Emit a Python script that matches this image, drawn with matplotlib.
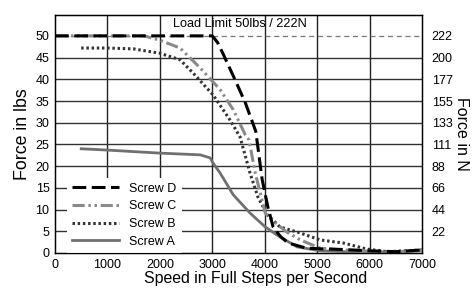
import matplotlib
matplotlib.use("Agg")
import matplotlib.pyplot as plt

plt.rcParams['font.family'] = ['Liberation Sans', 'DejaVu Sans']

# speed (full steps per second) and force (lbs)
speed_d = [0, 1000, 2000, 3000, 3100, 3200, 3430, 3630, 3830, 3950, 4060, 4160, 4300, 4450, 4800, 5000, 5500, 6000, 6500, 7000]
force_d = [50, 50, 50, 50, 48.5, 46, 40, 34.6, 28, 17, 10.6, 6, 3.8, 2.3, 1.1, 1.0, 0.8, 0.5, 0.3, 0.7]

speed_c = [0, 1000, 1700, 2000, 2385, 2770, 3150, 3400, 3630, 3700, 3820, 4010, 4140, 4400, 4680, 5060, 5500, 6000, 6500, 7000]
force_c = [50, 50, 50, 49, 47.2, 42.6, 37.6, 33, 27.2, 26, 18.4, 9.2, 7.6, 5, 3, 1.1, 0.7, 0.4, 0.3, 0.6]

speed_b = [500, 1000, 1500, 2000, 2385, 2630, 3015, 3340, 3530, 3720, 3870, 4050, 4290, 4680, 5060, 5500, 5950, 6340, 7000]
force_b = [47.2, 47.2, 47, 46, 44.5, 41.5, 36.4, 30.6, 26.7, 18.4, 12.9, 8.8, 6, 4.6, 3, 2.3, 0.9, 0.3, 0.7]

speed_a = [500, 1000, 2000, 2770, 2960, 3015, 3150, 3400, 3720, 4010, 4290, 4620, 5060, 5500, 6000, 6500, 7000]
force_a = [24, 23.7, 23, 22.6, 21.9, 20.7, 18.4, 13.4, 9.2, 6, 3.7, 1.4, 0.5, 0.3, 0.2, 0.2, 0.5]

lbs_ticks = [0, 5, 10, 15, 20, 25, 30, 35, 40, 45, 50]
newton_ticks = [5, 10, 15, 20, 25, 30, 35, 40, 45, 50]
newton_labels = ['22', '44', '66', '88', '111', '133', '155', '177', '200', '222']
load_limit = 50

fig = plt.figure(figsize=(4.77, 2.89), dpi=100)
ax = fig.add_axes([0.1153, 0.1246, 0.7694, 0.8234])

# grid
for x in range(1000, 7000, 1000):
    ax.axvline(x, color='#222222', lw=1.0, zorder=1)
for y in range(5, 50, 5):
    ax.axhline(y, color='#333333', lw=1.0, zorder=1)

# load limit line
ax.axhline(load_limit, color='#777777', lw=0.9, ls=(0, (4, 3)), zorder=1)
ax.text(3530, 51.3, 'Load Limit 50lbs / 222N', ha='center', va='bottom', fontsize=9.2)

ax.plot(speed_d, force_d, color='black', lw=2.2, dashes=(4.5, 1.8), label='Screw D', zorder=5)
ax.plot(speed_c, force_c, color='#8a8a8a', lw=2.2, dashes=(4, 1.2, 0.8, 1.2, 0.8, 1.2), label='Screw C', zorder=4)
ax.plot(speed_b, force_b, color='#333333', lw=2.2, dashes=(0.8, 0.9), label='Screw B', zorder=3)
ax.plot(speed_a, force_a, color='#707070', lw=2.0, label='Screw A', zorder=3)

ax.set_xlim(0, 7000)
ax.set_ylim(0, 54.8)
ax.set_xticks(range(0, 7001, 1000))
ax.set_yticks(lbs_ticks)
ax.tick_params(length=0, labelsize=9, pad=4)
ax.set_xlabel('Speed in Full Steps per Second', fontsize=11.4, labelpad=1)
ax.xaxis.set_label_coords(0.548, -0.075)
ax.set_ylabel('Force in lbs', fontsize=12.8, labelpad=3)
for s in ax.spines.values():
    s.set_linewidth(1.0)

ax2 = ax.twinx()
ax2.set_ylim(ax.get_ylim())
ax2.set_yticks(newton_ticks)
ax2.set_yticklabels(newton_labels)
ax2.tick_params(length=0, labelsize=9, pad=7)
ax2.set_ylabel('Force in N', fontsize=11.5, rotation=270, labelpad=12)

leg = ax.legend(loc='lower left', bbox_to_anchor=(0.015, -0.025), frameon=True, fancybox=False,
                edgecolor='none', facecolor='white', framealpha=1, fontsize=9,
                handlelength=3.8, labelspacing=0.45, borderpad=0.4)
leg.set_zorder(10)

fig.savefig('out.png', dpi=100)
